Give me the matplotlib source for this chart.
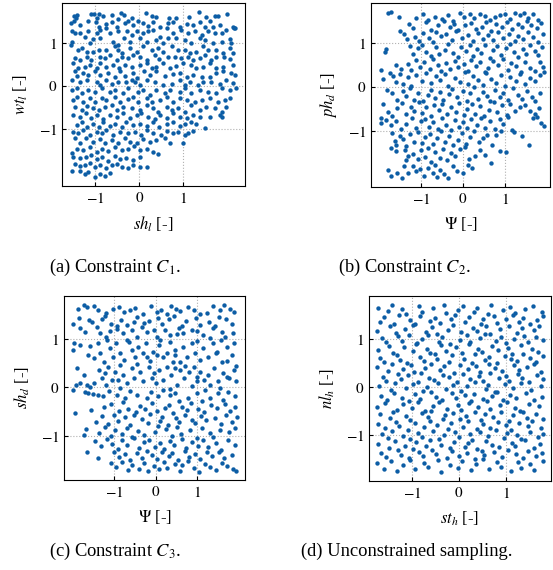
import matplotlib
matplotlib.use("Agg")
import matplotlib.pyplot as plt

# ---------------------------------------------------------------------------
# Standardised design samples (scaled values) for each sampling scheme
# ---------------------------------------------------------------------------

# (a) constraint C1: (sh_l, wt_l) pairs
samples_c1 = [
    (-1.47,1.62),(-1.40,1.64),(-1.43,1.57),(-1.10,1.67),(-1.02,1.67),(-0.90,1.67),(-0.96,1.57),(-0.81,1.62),(-0.62,1.64),(-0.42,1.68),(-0.35,1.64),(-0.17,1.57),(0.15,1.68),(0.28,1.62),(0.39,1.59),(0.68,1.57),(0.83,1.57),(1.13,1.59),(1.35,1.70),(1.50,1.60),(1.71,1.62),(1.78,1.62),(1.98,1.66),
    (-1.55,1.45),(-1.47,1.51),(-1.34,1.41),(-1.15,1.51),(-0.98,1.49),(-0.92,1.37),(-0.74,1.43),(-0.62,1.47),(-0.47,1.54),(-0.51,1.37),(-0.32,1.45),(-0.25,1.51),(-0.14,1.41),(-0.02,1.51),(0.09,1.45),(0.20,1.39),(0.32,1.47),(0.47,1.37),(0.65,1.45),(0.77,1.49),(0.92,1.37),(1.07,1.43),(1.22,1.41),(1.37,1.47),(1.48,1.37),(1.59,1.51),(1.67,1.36),(1.82,1.41),(1.97,1.29),(2.12,1.37),(2.14,1.33),
    (-1.53,1.26),(-1.45,1.22),(-1.34,1.22),(-1.23,1.14),(-1.15,1.26),(-0.96,1.22),(-0.89,1.29),(-0.74,1.33),(-0.66,1.22),(-0.47,1.26),(-0.27,1.26),(-0.17,1.18),(-0.06,1.26),(0.09,1.22),(0.20,1.26),(0.32,1.29),(0.47,1.14),(0.62,1.33),(0.77,1.22),(0.95,1.29),(1.11,1.22),(1.26,1.26),(1.41,1.18),(1.56,1.26),(1.71,1.22),(1.86,1.22),(2.05,1.08),(2.16,1.33),
    (-1.53,1.02),(-1.55,0.95),(-1.11,0.98),(-1.04,1.08),(-0.89,1.10),(-0.59,1.02),(-0.47,0.95),(-0.35,1.10),(-0.21,1.02),(0.02,1.10),(0.17,1.02),(0.39,1.06),(0.54,0.98),(0.65,1.10),(0.84,1.10),(1.03,1.06),(1.18,0.98),(1.37,1.10),(1.48,1.06),(1.67,0.98),(1.88,1.02),(2.08,0.98),
    (-1.38,0.83),(-1.30,0.87),(-1.19,0.79),(-1.04,0.79),(-0.92,0.83),(-0.74,0.83),(-0.55,0.91),(-0.47,0.83),(-0.38,0.77),(-0.21,0.87),(-0.06,0.79),(0.09,0.91),(0.28,0.83),(0.43,0.87),(0.54,0.79),(0.73,0.91),(0.88,0.83),(1.03,0.83),(1.14,0.75),(1.29,0.79),(1.44,0.91),(1.56,0.83),(1.74,0.83),(1.89,0.75),(2.05,0.87),(2.12,0.77),
    (-1.45,0.64),(-1.34,0.60),(-1.17,0.67),(-1.08,0.60),(-0.89,0.67),(-0.77,0.64),(-0.66,0.71),(-0.51,0.60),(-0.40,0.67),(-0.25,0.64),(-0.14,0.71),(0.02,0.67),(0.17,0.60),(0.35,0.71),(0.45,0.61),(0.65,0.67),(0.80,0.66),(0.95,0.64),(1.11,0.67),(1.22,0.60),(1.37,0.64),(1.48,0.71),(1.63,0.60),(1.74,0.66),(1.91,0.67),(2.05,0.61),
    (-1.50,0.52),(-1.38,0.40),(-1.23,0.44),(-1.11,0.48),(-0.96,0.40),(-0.89,0.52),(-0.74,0.44),(-0.59,0.48),(-0.45,0.40),(-0.32,0.48),(-0.17,0.44),(0.02,0.48),(0.17,0.52),(0.28,0.40),(0.39,0.44),(0.54,0.52),(0.69,0.40),(0.84,0.46),(0.99,0.52),(1.16,0.48),(1.29,0.40),(1.44,0.44),(1.59,0.52),(1.74,0.40),(1.89,0.44),(2.12,0.48),
    (-1.45,0.33),(-1.40,0.22),(-1.26,0.29),(-1.15,0.25),(-1.00,0.33),(-0.89,0.25),(-0.70,0.29),(-0.55,0.21),(-0.44,0.33),(-0.32,0.22),(-0.14,0.29),(-0.05,0.17),(0.11,0.33),(0.24,0.25),(0.39,0.33),(0.58,0.22),(0.77,0.27),(0.92,0.30),(1.07,0.21),(1.22,0.25),(1.41,0.21),(1.59,0.19),(1.74,0.29),(1.89,0.33),(2.08,0.29),(2.16,0.25),
    (-1.53,0.13),(-1.34,0.09),(-1.17,0.13),(-0.96,0.09),(-0.89,0.02),(-0.74,0.13),(-0.62,0.05),(-0.47,0.09),(-0.29,0.09),(-0.17,0.13),(-0.10,0.09),(0.02,0.02),(0.17,0.13),(0.35,0.09),(0.54,0.02),(0.73,0.05),(0.92,0.13),(1.03,0.02),(1.14,0.09),(1.33,0.02),(1.44,0.09),(1.63,0.09),(1.82,0.05),(1.97,0.13),(2.12,0.07),
    (-1.53,-0.10),(-1.41,-0.06),(-1.30,-0.18),(-1.15,-0.10),(-1.00,-0.14),(-0.85,-0.06),(-0.66,-0.14),(-0.55,-0.09),(-0.36,-0.18),(-0.25,-0.06),(-0.02,-0.14),(0.09,-0.10),(0.24,-0.22),(0.39,-0.10),(0.58,-0.18),(0.69,-0.09),(0.92,-0.14),(1.03,-0.06),(1.18,-0.18),(1.37,-0.10),(1.56,-0.14),(1.74,-0.18),(1.86,-0.06),(2.05,-0.10),(2.18,-0.06),
    (-1.50,-0.33),(-1.40,-0.26),(-1.26,-0.37),(-1.11,-0.29),(-1.00,-0.37),(-0.85,-0.29),(-0.74,-0.33),(-0.55,-0.26),(-0.44,-0.37),(-0.25,-0.32),(-0.14,-0.26),(-0.02,-0.37),(0.17,-0.29),(0.28,-0.37),(0.47,-0.33),(0.62,-0.26),(0.77,-0.37),(0.92,-0.29),(1.07,-0.33),(1.26,-0.37),(1.41,-0.33),(1.59,-0.29),(1.78,-0.37),(1.93,-0.33),(2.05,-0.29),
    (-1.45,-0.49),(-1.30,-0.57),(-1.17,-0.47),(-1.04,-0.53),(-0.92,-0.57),(-0.77,-0.49),(-0.62,-0.45),(-0.51,-0.57),(-0.36,-0.49),(-0.17,-0.53),(0.02,-0.57),(0.17,-0.45),(0.32,-0.53),(0.43,-0.60),(0.62,-0.49),(0.73,-0.57),(0.88,-0.53),(1.03,-0.60),(1.18,-0.45),(1.37,-0.57),(1.52,-0.49),(1.71,-0.53),(1.86,-0.60),(1.97,-0.49),
    (-1.49,-0.68),(-1.34,-0.72),(-1.20,-0.64),(-1.08,-0.76),(-0.95,-0.68),(-0.81,-0.78),(-0.66,-0.68),(-0.51,-0.72),(-0.36,-0.64),(-0.21,-0.76),(-0.06,-0.68),(0.05,-0.63),(0.20,-0.72),(0.35,-0.78),(0.47,-0.68),(0.62,-0.76),(0.77,-0.64),(0.92,-0.72),(1.07,-0.76),(1.22,-0.68),(1.37,-0.72),(1.59,-0.72),(1.83,-0.68),(1.88,-0.72),
    (-1.41,-0.91),(-1.30,-0.84),(-1.19,-0.95),(-1.04,-0.88),(-0.92,-0.95),(-0.81,-0.84),(-0.66,-0.94),(-0.55,-0.88),(-0.40,-0.97),(-0.29,-0.84),(-0.14,-0.91),(0.02,-0.88),(0.17,-0.94),(0.32,-0.84),(0.45,-0.95),(0.62,-0.88),(0.77,-0.84),(0.92,-0.94),(1.03,-0.88),(1.18,-0.84),(1.29,-0.89),(1.48,-0.99),
    (-1.49,-1.07),(-1.38,-1.11),(-1.26,-1.03),(-1.11,-1.15),(-0.96,-1.07),(-0.85,-1.11),(-0.74,-1.03),(-0.59,-1.15),(-0.44,-1.07),(-0.25,-1.11),(-0.10,-1.07),(0.05,-1.15),(0.17,-1.03),(0.32,-1.11),(0.50,-1.15),(0.62,-1.05),(0.77,-1.11),(0.88,-1.07),(1.03,-1.15),(1.11,-1.11),(1.22,-1.05),
    (-1.45,-1.22),(-1.34,-1.33),(-1.20,-1.22),(-1.05,-1.30),(-0.89,-1.25),(-0.77,-1.34),(-0.62,-1.26),(-0.47,-1.33),(-0.32,-1.22),(-0.21,-1.30),(-0.06,-1.34),(0.09,-1.25),(0.24,-1.30),(0.39,-1.26),(0.58,-1.22),(0.69,-1.34),(0.99,-1.34),
    (-1.41,-1.46),(-1.26,-1.50),(-1.11,-1.42),(-0.96,-1.53),(-0.83,-1.46),(-0.70,-1.51),(-0.55,-1.42),(-0.40,-1.50),(-0.25,-1.46),(-0.12,-1.40),(0.02,-1.50),(0.17,-1.46),(0.32,-1.53),(0.43,-1.59),
    (-1.53,-1.57),(-1.49,-1.65),(-1.34,-1.69),(-1.20,-1.65),(-1.10,-1.61),(-0.96,-1.71),(-0.85,-1.65),(-0.70,-1.74),(-0.55,-1.64),(-0.44,-1.71),(-0.29,-1.67),(-0.14,-1.73),(0.02,-1.65),
    (-1.45,-1.81),(-1.34,-1.86),(-1.23,-1.84),(-1.11,-1.79),(-1.00,-1.88),(-0.89,-1.84),(-0.74,-1.92),(-0.62,-1.84),(-0.51,-1.81),(-0.40,-1.88),(-0.25,-1.92),(-0.14,-1.84),(0.02,-1.88),(0.17,-1.88),
    (-1.53,-1.98),(-1.34,-1.98),(-1.23,-2.04),(-1.15,-2.00),(-1.00,-2.12),(-0.89,-2.05),(-0.77,-2.10),(-0.66,-2.02),
]

# (b) constraint C2: Psi (x) and ph_d (y)
psi_c2 = [
    -1.81,-1.72,-1.54,-1.13,-0.97,-0.84,-0.68,-0.51,-0.37,-0.25,-0.07,0.03,0.17,0.27,0.41,0.53,0.64,0.76,0.88,1.01,1.13,1.25,1.36,1.46,1.57,1.69,1.80,
    -1.29,-1.21,-0.90,-0.77,-0.59,-0.46,-0.31,-0.21,-0.11,0.05,0.19,0.31,0.45,0.55,0.67,0.79,0.93,1.05,1.18,1.31,1.41,1.53,1.64,1.77,1.87,
    -1.52,-1.42,-1.34,-1.16,-1.06,-0.96,-0.82,-0.72,-0.64,-0.52,-0.40,-0.27,-0.16,-0.03,0.11,0.23,0.37,0.48,0.60,0.72,0.85,0.97,1.10,1.24,1.33,1.44,1.56,1.68,1.79,1.92,
    -1.84,-1.88,-1.28,-1.20,-1.09,-0.99,-0.89,-0.76,-0.66,-0.57,-0.43,-0.36,-0.24,-0.13,-0.04,0.08,0.16,0.24,0.33,0.44,0.52,0.65,0.71,0.81,0.92,1.04,1.12,1.22,1.31,1.44,1.52,1.61,1.72,1.81,1.89,
    -1.60,-1.48,-1.32,-1.24,-1.12,-1.03,-0.93,-0.80,-0.72,-0.60,-0.52,-0.41,-0.32,-0.20,-0.12,0.02,0.12,0.20,0.32,0.40,0.53,0.60,0.72,0.84,0.96,1.08,1.16,1.28,1.40,1.48,1.60,1.72,1.84,1.93,
    -1.98,-1.93,-1.76,-1.68,-1.60,-1.52,-1.44,-1.32,-1.24,-1.12,-0.99,-0.88,-0.76,-0.64,-0.56,-0.44,-0.36,-0.20,-0.08,0.04,0.12,0.24,0.36,0.48,0.56,0.68,0.80,0.92,1.00,1.12,1.28,1.36,1.48,1.60,1.72,1.84,1.95,
    -1.83,-1.71,-1.58,-1.45,-1.37,-1.28,-1.17,-1.07,-0.97,-0.85,-0.78,-0.67,-0.55,-0.47,-0.34,-0.26,-0.15,-0.01,0.09,0.18,0.27,0.35,0.47,0.58,0.66,0.77,0.89,0.97,1.09,1.21,1.33,1.41,1.53,1.65,1.73,1.86,
    -1.91,-1.79,-1.70,-1.59,-1.47,-1.36,-1.26,-1.18,-1.06,-0.98,-0.90,-0.78,-0.70,-0.58,-0.50,-0.38,-0.29,-0.18,-0.09,0.02,0.10,0.22,0.30,0.42,0.51,0.62,0.74,0.82,0.94,1.05,1.14,1.26,1.38,1.50,1.62,1.74,1.83,
    -1.98,-1.96,-1.84,-1.73,-1.62,-1.48,-1.38,-1.22,-1.12,-1.02,-0.91,-0.82,-0.71,-0.60,-0.50,-0.40,-0.30,-0.19,-0.10,0.00,0.09,0.20,0.33,0.44,0.54,0.66,0.77,0.88,0.97,1.08,1.18,1.68,1.77,1.88,1.95,
    -1.70,-1.64,-1.61,-1.51,-1.43,-1.36,-1.27,-1.17,-1.08,-0.99,-0.92,-0.80,-0.72,-0.63,-0.53,-0.44,-0.33,-0.24,-0.12,-0.02,0.07,0.17,0.27,0.38,0.48,0.58,0.70,0.79,0.91,1.22,1.42,1.58,
    -1.74,-1.61,-1.40,-1.31,-1.37,-1.20,-1.09,-1.00,-0.92,-0.84,-0.76,-0.68,-0.56,-0.47,-0.39,-0.28,-0.19,-0.08,0.04,0.15,0.28,0.40,0.53,0.67,0.89,1.04,
    -1.79,-1.73,-1.58,-1.47,-1.33,-1.21,-1.12,-1.03,-0.93,-0.83,-0.72,-0.63,-0.55,-0.45,-0.35,-0.24,-0.15,-0.01,0.11,0.21,-1.41,-0.68,
]
ph_d = [
    1.68,1.71,1.60,1.57,1.66,1.52,1.60,1.55,1.64,1.51,1.69,1.61,1.67,1.57,1.66,1.62,1.53,1.59,1.64,1.67,1.55,1.69,1.64,1.70,1.58,1.66,1.54,
    1.45,1.35,1.48,1.31,1.42,1.50,1.36,1.45,1.30,1.41,1.47,1.33,1.38,1.49,1.29,1.44,1.36,1.48,1.32,1.43,1.37,1.50,1.41,1.34,1.46,
    1.27,1.20,1.10,1.14,1.04,1.23,1.11,1.03,1.25,1.16,1.22,1.07,1.27,1.13,1.19,1.05,1.24,1.10,1.18,1.08,1.26,1.12,1.21,1.06,1.17,1.09,1.25,1.14,1.03,1.20,
    0.87,0.79,0.93,0.76,0.88,0.97,0.80,0.70,0.92,0.75,0.85,0.99,0.78,0.68,0.91,0.82,0.96,0.71,0.87,0.77,0.95,0.67,0.84,0.93,0.74,0.89,0.98,0.79,0.69,0.86,0.76,0.95,0.83,0.72,0.91,
    0.51,0.40,0.53,0.38,0.61,0.46,0.57,0.42,0.63,0.49,0.36,0.55,0.41,0.60,0.45,0.52,0.37,0.62,0.48,0.56,0.35,0.44,0.59,0.50,0.64,0.39,0.54,0.47,0.34,0.58,0.43,0.37,0.57,0.45,
    0.38,0.17,0.31,0.24,0.12,0.29,0.06,0.22,0.03,0.27,0.14,0.32,0.08,0.25,0.16,0.30,0.02,0.20,0.11,0.33,0.07,0.26,0.15,0.04,0.31,0.19,0.10,0.28,0.01,0.23,0.13,0.30,0.06,0.21,0.14,0.27,0.34,
    -0.06,-0.14,-0.30,-0.10,-0.21,-0.02,-0.29,-0.13,-0.33,-0.19,-0.06,-0.26,-0.11,-0.31,-0.17,-0.04,-0.24,-0.09,-0.32,-0.15,-0.01,-0.27,-0.12,-0.20,-0.33,-0.07,-0.23,-0.14,-0.30,-0.03,-0.18,-0.28,-0.09,-0.22,-0.32,-0.13,
    -0.40,-0.58,-0.66,-0.49,-0.37,-0.62,-0.45,-0.56,-0.35,-0.60,-0.47,-0.66,-0.41,-0.53,-0.38,-0.63,-0.46,-0.57,-0.36,-0.65,-0.50,-0.39,-0.61,-0.44,-0.67,-0.52,-0.35,-0.58,-0.42,-0.64,-0.39,-0.55,-0.47,-0.41,-0.55,-0.62,-0.48,
    -0.71,-0.82,-0.76,-0.88,-0.79,-0.97,-0.84,-0.70,-0.93,-0.78,-0.74,-0.91,-0.81,-0.96,-0.72,-0.87,-0.99,-0.76,-0.92,-0.80,-0.95,-0.73,-0.86,-0.70,-0.94,-0.79,-0.97,-0.74,-0.85,-0.69,-0.99,-0.72,-0.68,-0.83,-0.90,
    -1.05,-1.24,-1.33,-1.12,-1.20,-1.35,-1.08,-1.25,-1.03,-1.29,-1.15,-1.07,-1.31,-1.18,-1.02,-1.27,-1.12,-1.34,-1.21,-1.06,-1.30,-1.14,-1.01,-1.26,-1.17,-1.09,-1.32,-1.11,-1.00,-1.03,-1.13,-1.32,
    -1.40,-1.47,-1.45,-1.58,-1.67,-1.53,-1.65,-1.44,-1.60,-1.39,-1.71,-1.50,-1.62,-1.43,-1.68,-1.52,-1.59,-1.41,-1.37,-1.64,-1.57,-1.45,-1.55,-1.73,-1.47,-1.50,
    -1.89,-2.03,-1.97,-2.08,-1.96,-1.81,-1.92,-1.88,-2.03,-1.85,-1.97,-2.07,-1.89,-2.00,-2.08,-1.82,-1.93,-1.97,-1.78,-1.86,-1.82,-1.79,
]

# (c) constraint C3: Psi (x) and sh_d (y)
psi_c3 = [
    -1.87,-1.73,-1.66,-1.47,-1.38,-1.19,-1.03,-0.88,-0.77,-0.62,-0.49,-0.31,-0.12,0.02,0.13,0.27,0.36,0.49,0.57,0.78,0.92,1.07,1.24,1.37,1.53,1.63,1.77,1.88,
    -1.99,-1.84,-1.61,-1.52,-1.29,-1.21,-1.08,-0.93,-0.83,-0.69,-0.52,-0.44,-0.27,-0.15,0.06,0.15,0.31,0.43,0.62,0.73,0.97,1.05,1.27,1.43,1.51,1.69,1.83,
    -1.82,-1.70,-1.42,-1.34,-1.19,-1.10,-0.94,-0.78,-0.58,-0.45,-0.33,-0.22,-0.04,0.03,0.22,0.34,0.50,0.55,0.66,0.86,1.00,1.14,1.31,1.38,1.58,1.66,1.86,
    -1.96,-1.82,-1.58,-1.38,-1.18,-1.09,-0.95,-0.70,-0.65,-0.43,-0.23,-0.07,0.08,0.11,0.35,0.46,0.66,0.87,0.99,1.14,1.38,1.47,1.56,1.71,1.87,
    -1.98,-1.63,-1.47,-1.33,-1.25,-1.02,-0.86,-0.77,-0.58,-0.50,-0.31,-0.20,-0.13,0.03,0.18,0.27,0.41,0.47,0.59,0.75,0.94,1.06,1.25,1.45,1.59,1.70,1.83,
    -1.90,-1.72,-1.37,-1.22,-1.14,-0.98,-0.86,-0.79,-0.57,-0.45,-0.38,-0.17,-0.04,0.07,0.26,0.37,0.45,0.58,0.69,0.79,0.91,0.99,1.07,1.26,1.39,1.62,1.72,1.87,1.92,
    -1.91,-1.81,-1.64,-1.57,-1.49,-1.29,-1.19,-1.06,-0.90,-0.68,-0.51,-0.30,-0.10,0.00,0.18,0.33,0.50,0.67,0.86,1.00,1.16,1.30,1.50,1.55,1.75,1.93,
    -1.99,-1.70,-1.62,-1.50,-1.38,-1.26,-1.13,-0.94,-0.85,-0.74,-0.61,-0.44,-0.22,-0.12,0.06,0.17,0.35,0.46,0.55,0.78,0.98,1.10,1.19,1.30,1.50,1.62,1.74,1.90,
    -1.94,-1.56,-1.23,-1.07,-0.89,-0.79,-0.66,-0.48,-0.37,-0.26,-0.09,0.03,0.21,0.31,0.42,0.63,0.74,0.85,1.02,1.15,1.33,1.46,1.66,1.79,1.91,
    -1.44,-1.30,-1.15,-1.01,-0.91,-0.73,-0.61,-0.53,-0.33,-0.19,-0.14,0.09,0.14,0.29,0.49,0.56,0.71,0.88,0.94,1.09,1.21,1.41,1.57,1.68,1.84,1.95,
    -1.71,-1.67,-1.36,-1.21,-1.08,-0.97,-0.81,-0.68,-0.56,-0.43,-0.29,-0.03,0.06,0.24,0.40,0.51,0.61,0.82,0.98,1.12,1.29,1.37,1.53,1.75,1.89,
    -1.45,-1.31,-1.17,-1.05,-0.90,-0.80,-0.70,-0.52,-0.41,-0.27,-0.17,-0.01,0.10,0.20,0.33,0.44,0.62,0.72,0.86,1.01,1.13,1.26,1.44,1.56,1.73,1.90,
    -1.64,-1.39,-1.01,-0.87,-0.74,-0.62,-0.46,-0.33,-0.21,-0.08,0.03,0.14,0.31,0.40,0.53,0.69,0.80,0.93,1.06,1.22,1.34,1.52,1.64,1.83,
    -1.08,-0.95,-0.82,-0.66,-0.56,-0.41,-0.28,-0.19,-0.05,0.08,0.19,0.28,0.45,0.57,0.64,0.77,0.91,1.04,1.18,1.31,1.44,1.59,1.70,1.85,1.93,
]
sh_d = [
    1.63,1.70,1.66,1.68,1.59,1.53,1.62,1.67,1.55,1.60,1.65,1.52,1.69,1.56,1.61,1.51,1.68,1.63,1.57,1.66,1.59,1.52,1.54,1.69,1.60,1.71,1.62,1.55,
    1.32,1.43,1.39,1.36,1.41,1.47,1.30,1.27,1.40,1.29,1.36,1.46,1.33,1.38,1.44,1.31,1.41,1.48,1.27,1.37,1.43,1.29,1.36,1.26,1.45,1.42,1.32,
    1.22,1.15,1.24,1.12,1.05,1.17,1.21,1.12,1.19,1.04,1.24,1.14,1.19,1.05,1.19,1.08,1.11,1.23,1.12,1.19,1.16,1.08,1.02,1.22,1.15,1.04,1.12,
    0.92,0.88,0.86,0.91,0.98,0.81,0.91,0.98,0.94,0.84,0.91,0.74,0.88,0.98,0.94,0.78,0.84,0.91,0.96,0.81,0.91,0.74,0.98,0.84,0.91,
    0.77,0.67,0.60,0.72,0.53,0.63,0.70,0.57,0.77,0.63,0.70,0.62,0.55,0.66,0.63,0.71,0.52,0.67,0.53,0.63,0.72,0.57,0.63,0.71,0.53,0.55,0.67,
    0.39,0.26,0.36,0.29,0.43,0.32,0.46,0.26,0.39,0.48,0.32,0.43,0.30,0.36,0.43,0.26,0.40,0.36,0.45,0.32,0.43,0.22,0.32,0.26,0.39,0.29,0.21,0.36,0.44,
    0.05,0.08,0.05,0.01,0.08,0.19,0.05,0.15,0.15,0.08,0.19,0.12,0.20,0.08,0.15,-0.03,0.05,0.19,0.02,0.12,0.15,0.05,0.12,-0.02,0.19,0.14,
    -0.06,-0.09,-0.12,-0.13,-0.16,-0.19,-0.07,-0.16,-0.02,-0.23,-0.07,-0.16,-0.23,-0.09,-0.19,-0.06,-0.15,-0.12,-0.28,-0.23,-0.12,-0.28,-0.06,-0.23,-0.12,-0.27,-0.09,-0.19,
    -0.54,-0.48,-0.41,-0.35,-0.49,-0.31,-0.44,-0.52,-0.38,-0.46,-0.33,-0.50,-0.42,-0.36,-0.53,-0.40,-0.47,-0.32,-0.45,-0.51,-0.37,-0.43,-0.34,-0.49,-0.41,
    -0.71,-0.60,-0.77,-0.57,-0.69,-0.62,-0.78,-0.58,-0.66,-0.74,-0.56,-0.70,-0.61,-0.79,-0.64,-0.72,-0.57,-0.67,-0.75,-0.60,-0.68,-0.63,-0.76,-0.58,-0.71,-0.62,
    -0.99,-0.86,-0.94,-0.82,-1.00,-0.88,-0.97,-0.84,-1.03,-0.90,-0.98,-0.93,-0.81,-0.87,-1.01,-0.83,-0.96,-0.89,-1.04,-0.85,-0.95,-1.02,-0.88,-0.92,-0.84,
    -1.12,-1.22,-1.08,-1.17,-1.27,-1.10,-1.20,-1.06,-1.25,-1.14,-1.09,-1.23,-1.16,-1.28,-1.11,-1.19,-1.07,-1.26,-1.13,-1.21,-1.09,-1.24,-1.15,-1.29,-1.10,-1.19,
    -1.35,-1.46,-1.33,-1.44,-1.38,-1.50,-1.36,-1.47,-1.32,-1.41,-1.49,-1.34,-1.43,-1.37,-1.51,-1.31,-1.45,-1.39,-1.48,-1.35,-1.42,-1.33,-1.47,-1.40,
    -1.56,-1.66,-1.54,-1.72,-1.60,-1.69,-1.57,-1.74,-1.62,-1.70,-1.55,-1.67,-1.59,-1.73,-1.61,-1.53,-1.68,-1.75,-1.58,-1.65,-1.71,-1.56,-1.63,-1.70,-1.74,
]

# (d) unconstrained sampling: st_h (x) and nl_h (y)
st_h = [
    -1.73,-1.52,-1.44,-1.21,-1.13,-0.86,-0.79,-0.55,-0.33,-0.27,-0.02,0.09,0.31,0.38,0.61,0.69,0.93,1.08,1.19,1.41,1.58,1.76,
    -1.69,-1.61,-1.38,-1.29,-1.04,-0.95,-0.84,-0.63,-0.51,-0.40,-0.18,-0.09,0.12,0.22,0.47,0.52,0.74,0.81,1.00,1.15,1.27,1.36,1.52,1.66,1.79,
    -1.74,-1.47,-1.35,-1.16,-0.98,-0.71,-0.58,-0.46,-0.24,-0.13,0.04,0.30,0.39,0.58,0.66,0.88,1.06,1.23,1.34,1.59,1.71,
    -1.65,-1.55,-1.31,-1.22,-1.07,-0.90,-0.80,-0.66,-0.43,-0.36,-0.19,0.01,0.16,0.24,0.45,0.55,0.78,0.90,1.01,1.17,1.39,1.46,1.64,1.78,
    -1.72,-1.49,-1.40,-1.18,-0.99,-0.92,-0.69,-0.61,-0.39,-0.28,-0.06,0.07,0.21,0.41,0.49,0.70,0.82,1.05,1.13,1.33,1.55,1.69,
    -1.68,-1.59,-1.33,-1.26,-1.10,-0.83,-0.75,-0.52,-0.47,-0.22,-0.14,0.10,0.28,0.33,0.56,0.64,0.80,0.97,1.10,1.24,1.37,1.51,1.63,1.80,
    -1.74,-1.51,-1.43,-1.20,-1.02,-0.96,-0.73,-0.60,-0.41,-0.32,-0.10,0.03,0.19,0.37,0.44,0.63,0.76,0.92,1.18,1.28,1.44,1.60,1.75,
    -1.63,-1.56,-1.30,-1.24,-1.08,-0.88,-0.81,-0.64,-0.53,-0.34,-0.21,-0.04,0.08,0.23,0.42,0.51,0.67,0.85,0.99,1.06,1.25,1.35,1.50,1.67,1.79,
    -1.71,-1.45,-1.36,-1.14,-0.99,-0.76,-0.68,-0.44,-0.27,-0.12,0.04,0.16,0.35,0.57,0.62,0.81,0.97,1.16,1.31,1.53,1.74,
    -1.66,-1.53,-1.39,-1.22,-1.06,-0.93,-0.83,-0.60,-0.50,-0.37,-0.16,-0.06,0.12,0.26,0.31,0.52,0.70,0.76,0.94,1.09,1.22,1.42,1.59,1.77,
    -1.74,-1.58,-1.32,-1.19,-1.01,-0.88,-0.72,-0.55,-0.43,-0.25,-0.02,0.05,0.21,0.40,0.59,0.65,0.87,1.03,1.20,1.30,1.50,1.71,
    -1.68,-1.47,-1.40,-1.13,-1.04,-0.80,-0.67,-0.59,-0.35,-0.30,-0.12,0.02,0.15,0.33,0.46,0.55,0.72,0.89,1.07,1.14,1.36,1.45,1.64,1.80,
    -1.72,-1.57,-1.34,-1.27,-1.09,-0.95,-0.75,-0.63,-0.48,-0.23,-0.17,0.09,0.19,0.38,0.52,0.67,0.83,1.00,1.11,1.27,1.47,1.56,1.75,
    -1.65,-1.52,-1.43,-1.20,-1.05,-0.87,-0.79,-0.55,-0.42,-0.32,-0.08,-0.01,0.24,0.28,0.44,0.61,0.78,0.95,1.03,1.24,1.33,1.52,1.68,1.79,
    -1.73,-1.49,-1.37,-1.16,-0.98,-0.92,-0.70,-0.62,-0.39,-0.20,-0.11,0.13,0.20,0.39,0.58,0.71,0.86,1.13,1.19,1.40,1.60,1.72,
    -1.67,-1.55,-1.30,-1.23,-1.07,-0.85,-0.77,-0.58,-0.49,-0.26,-0.15,0.00,0.17,0.33,0.48,0.54,0.75,0.92,1.05,1.21,1.36,1.47,1.65,1.77,
    -1.74,-1.61,-1.46,-1.33,-1.19,-1.05,-0.95,-0.74,-0.66,-0.45,-0.38,-0.19,-0.03,0.06,0.25,0.36,0.51,0.63,0.81,0.89,1.10,1.25,1.31,1.51,1.60,1.78,
]
nl_h = [
    1.66,1.58,1.71,1.62,1.53,1.69,1.57,1.64,1.72,1.55,1.61,1.70,1.57,1.66,1.53,1.71,1.60,1.68,1.55,1.63,1.70,1.57,
    1.36,1.47,1.31,1.50,1.40,1.32,1.48,1.37,1.45,1.33,1.42,1.51,1.35,1.46,1.31,1.43,1.49,1.34,1.41,1.51,1.36,1.45,1.32,1.40,1.48,
    1.18,1.27,1.12,1.22,1.29,1.15,1.25,1.10,1.20,1.30,1.14,1.24,1.17,1.28,1.11,1.21,1.27,1.13,1.23,1.19,1.28,
    1.02,0.93,1.07,0.97,1.09,0.91,1.01,1.08,0.95,1.04,0.90,0.99,1.08,0.94,1.03,1.10,0.96,1.05,0.92,1.00,1.07,0.94,1.05,0.98,
    0.78,0.86,0.71,0.83,0.75,0.89,0.80,0.72,0.87,0.76,0.84,0.71,0.89,0.79,0.73,0.86,0.77,0.82,0.70,0.88,0.79,0.74,
    0.61,0.53,0.67,0.57,0.50,0.63,0.55,0.68,0.59,0.52,0.66,0.58,0.51,0.69,0.56,0.62,0.50,0.65,0.59,0.54,0.68,0.60,0.52,0.64,
    0.42,0.33,0.48,0.38,0.45,0.31,0.40,0.49,0.35,0.44,0.30,0.47,0.37,0.43,0.32,0.48,0.39,0.34,0.46,0.36,0.41,0.49,0.32,
    0.22,0.13,0.28,0.17,0.25,0.11,0.29,0.19,0.14,0.26,0.20,0.10,0.27,0.16,0.23,0.12,0.29,0.18,0.24,0.13,0.28,0.19,0.11,0.25,0.16,
    0.03,-0.06,0.09,-0.02,0.06,-0.09,0.01,0.08,-0.04,0.05,-0.08,0.02,0.10,-0.05,0.04,-0.10,0.07,-0.01,0.09,-0.07,0.03,
    -0.18,-0.27,-0.12,-0.22,-0.29,-0.15,-0.24,-0.11,-0.20,-0.28,-0.13,-0.23,-0.17,-0.30,-0.14,-0.25,-0.19,-0.11,-0.27,-0.16,-0.22,-0.12,-0.28,-0.20,
    -0.41,-0.33,-0.47,-0.36,-0.44,-0.31,-0.49,-0.39,-0.32,-0.45,-0.37,-0.48,-0.34,-0.42,-0.30,-0.46,-0.38,-0.32,-0.43,-0.49,-0.35,-0.40,
    -0.57,-0.65,-0.52,-0.61,-0.69,-0.55,-0.63,-0.50,-0.67,-0.58,-0.54,-0.66,-0.60,-0.51,-0.68,-0.56,-0.62,-0.53,-0.70,-0.59,-0.52,-0.64,-0.57,-0.67,
    -0.78,-0.86,-0.72,-0.81,-0.89,-0.74,-0.84,-0.70,-0.79,-0.87,-0.76,-0.83,-0.71,-0.88,-0.77,-0.85,-0.73,-0.80,-0.90,-0.75,-0.82,-0.71,-0.86,
    -0.97,-1.06,-0.92,-1.02,-1.09,-0.95,-1.04,-0.91,-1.08,-0.99,-0.93,-1.05,-0.98,-1.10,-0.94,-1.03,-0.90,-1.07,-0.96,-1.01,-1.09,-0.93,-1.05,-0.98,
    -1.18,-1.27,-1.12,-1.22,-1.29,-1.15,-1.24,-1.11,-1.20,-1.28,-1.14,-1.25,-1.17,-1.30,-1.13,-1.21,-1.26,-1.16,-1.23,-1.11,-1.28,-1.19,
    -1.37,-1.45,-1.32,-1.41,-1.48,-1.35,-1.43,-1.31,-1.39,-1.47,-1.34,-1.44,-1.38,-1.50,-1.33,-1.42,-1.36,-1.46,-1.31,-1.40,-1.49,-1.34,-1.43,-1.37,
    -1.59,-1.70,-1.54,-1.76,-1.63,-1.52,-1.72,-1.58,-1.67,-1.53,-1.77,-1.62,-1.69,-1.55,-1.74,-1.60,-1.51,-1.71,-1.57,-1.66,-1.75,-1.56,-1.68,-1.61,-1.73,-1.55,
]

x_labels = [r"$sh_l$ [-]", r"$\Psi$ [-]", r"$\Psi$ [-]", r"$st_h$ [-]"]
y_labels = [r"$wt_l$ [-]", r"$ph_d$ [-]", r"$sh_d$ [-]", r"$nl_h$ [-]"]
captions = [r"(a) Constraint $C_1$.", r"(b) Constraint $C_2$.",
            r"(c) Constraint $C_3$.", "(d) Unconstrained sampling."]
tick_values = [-1, 0, 1]
tick_labels = [r"$-1$", r"$0$", r"$1$"]

# ---------------------------------------------------------------------------
# Layout and styling
# ---------------------------------------------------------------------------
plt.rcParams.update({
    "font.family": "serif",
    "font.serif": ["Liberation Serif", "DejaVu Serif"],
    "mathtext.fontset": "stix",
    "font.size": 11,
    "axes.linewidth": 0.8,
    "xtick.direction": "in",
    "ytick.direction": "in",
    "xtick.major.size": 3,
    "ytick.major.size": 3,
    "xtick.major.width": 0.8,
    "ytick.major.width": 0.8,
})

W, H = 553, 570
fig = plt.figure(figsize=(W / 100, H / 100), dpi=100)

# axes boxes in pixels: left, top, right, bottom
boxes = [(62, 3, 245, 186), (371, 3, 550, 187),
         (64, 296, 245, 480), (369, 296, 551, 481)]
limits = [((-1.745, 2.39), (-2.33, 1.92)),
          ((-2.21, 2.09), (-2.29, 1.92)),
          ((-2.20, 2.14), (-1.92, 1.89)),
          ((-1.92, 1.96), (-1.96, 1.90))]
caption_xy = [(115, 267), (405, 267), (115, 551), (407, 551)]

color = "#0C5DA5"

panel_xy = [
    ([p[0] for p in samples_c1], [p[1] for p in samples_c1]),
    (psi_c2, ph_d),
    (psi_c3, sh_d),
    (st_h, nl_h),
]

for i, (xs, ys) in enumerate(panel_xy):
    l, t, r, b = boxes[i]
    ax = fig.add_axes([l / W, 1 - b / H, (r - l) / W, (b - t) / H])
    ax.scatter(xs, ys, s=10, color=color, linewidths=0, zorder=3)
    ax.set_xlim(*limits[i][0])
    ax.set_ylim(*limits[i][1])
    ax.set_xticks(tick_values)
    ax.set_yticks(tick_values)
    ax.set_xticklabels(tick_labels, fontsize=11)
    ax.set_yticklabels(tick_labels, fontsize=11)
    ax.grid(True, linestyle=":", color="#b0b0b0", linewidth=0.8)
    ax.set_axisbelow(True)
    ax.set_xlabel(x_labels[i], labelpad=6, fontsize=12)
    ax.set_ylabel(y_labels[i], labelpad=6, fontsize=12)
    cx, cy = caption_xy[i]
    fig.text(cx / W, 1 - cy / H, captions[i], ha="center", va="center",
             fontsize=13.3)

fig.savefig("out.png", dpi=100)
